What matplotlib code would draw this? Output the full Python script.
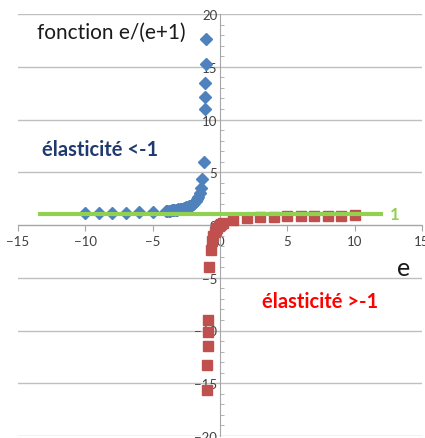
import numpy as np
import matplotlib
matplotlib.use("Agg")
import matplotlib.pyplot as plt
from matplotlib.ticker import MultipleLocator

plt.rcParams['font.family'] = ['Lato', 'DejaVu Sans']

# e values on each branch of e/(e+1)
e_left = [-10, -9, -8, -7, -6, -5,
          -4.0, -3.9, -3.8, -3.7, -3.6, -3.5, -3.4, -3.3, -3.2, -3.1,
          -3.0, -2.9, -2.8, -2.7, -2.6, -2.5, -2.4, -2.3, -2.2, -2.1,
          -2.0, -1.9, -1.8, -1.7, -1.6, -1.5, -1.4, -1.3, -1.2, -1.1,
          -1.09, -1.08, -1.07, -1.06]
e_right = [-0.94, -0.93, -0.92, -0.91, -0.9,
           -0.8, -0.7, -0.6, -0.5, -0.4, -0.3, -0.2, -0.1, 0.0, 0.1, 0.2,
           1, 2, 3, 4, 5, 6, 7, 8, 9, 10]

y_left = [e / (e + 1) for e in e_left]
y_right = [e / (e + 1) for e in e_right]

ref_x = [-13.5, 12.1]
ref_y = [1, 1]

fig = plt.figure(figsize=(4.25, 4.39), dpi=100)
ax = fig.add_axes([18 / 425, 2 / 439, 404 / 425, 422 / 439])
ax.set_xlim(-15, 15)
ax.set_ylim(-20, 20)

for s in ['top', 'right']:
    ax.spines[s].set_visible(False)
ax.spines['left'].set_position(('data', 0))
ax.spines['bottom'].set_position(('data', 0))
ax.spines['left'].set_color('#a6a6a6')
ax.spines['bottom'].set_color('#a6a6a6')

ax.xaxis.set_major_locator(MultipleLocator(5))
ax.yaxis.set_major_locator(MultipleLocator(5))
ax.yaxis.set_minor_locator(MultipleLocator(1))
ax.tick_params(axis='x', which='major', direction='out', length=4,
               color='#a6a6a6', labelsize=9.5, labelcolor='#404040', pad=3)
ax.tick_params(axis='y', which='major', direction='in', length=0,
               labelsize=9.5, labelcolor='#404040', pad=2)
ax.tick_params(axis='y', which='minor', direction='in', length=3,
               color='#a6a6a6')
ax.set_xticks(range(-15, 16, 5))
ax.set_yticks(range(-20, 21, 5))

# horizontal gridlines only
ax.yaxis.grid(True, which='major', color='#bfbfbf', lw=1)
ax.set_axisbelow(True)

ax.plot(e_left, y_left, 'D', color='#4f81bd', ms=6, mec='#4f81bd', zorder=3)
ax.plot(e_right, y_right, 's', color='#c0504d', ms=7, mec='#c0504d', zorder=3)
ax.plot(ref_x, ref_y, color='#92d050', lw=3, zorder=4, solid_capstyle='butt')

ax.text(12.6, 1, '1', color='#92d050', fontsize=12, fontweight='bold',
        va='center', ha='left')
ax.text(-8.1, 18.3, 'fonction e/(e+1)', fontsize=15, color='#1a1a1a',
        ha='center', va='center')
ax.text(-8.9, 7.2, 'élasticité <-1', fontsize=14.5, fontweight='bold',
        color='#1f3a6e', ha='center', va='center')
ax.text(7.4, -7.2, 'élasticité >-1', fontsize=14.5, fontweight='bold',
        color='#ff0000', ha='center', va='center')
ax.text(13.6, -4, 'e', fontsize=18, color='#1a1a1a', ha='center',
        va='center')

fig.savefig('out.png', dpi=100)
